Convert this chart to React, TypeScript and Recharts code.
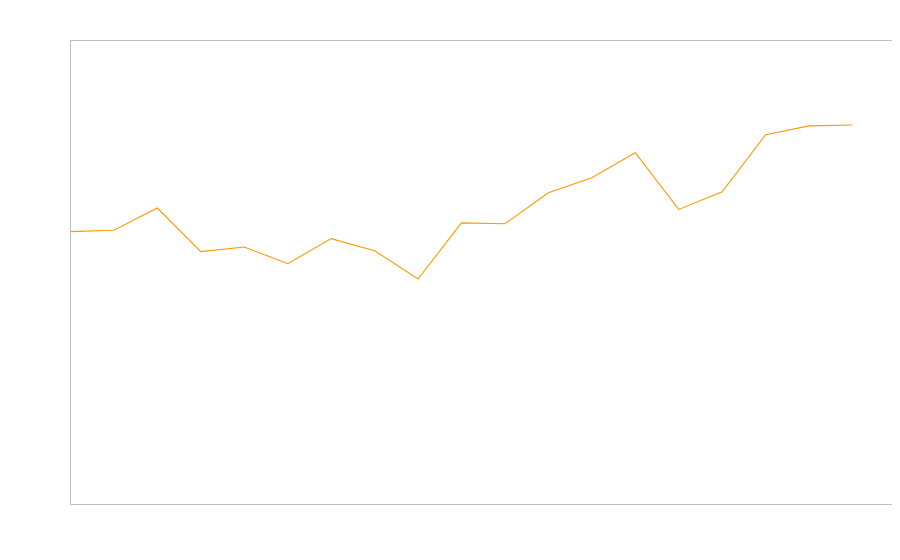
import React from 'react';
import { LineChart, Line, XAxis, YAxis, ReferenceLine } from 'recharts';

// index positions along the x axis
const steps = [0, 1, 2, 3, 4, 5, 6, 7, 8, 9, 10, 11, 12, 13, 14, 15, 16, 17, 18];
// values (y range 0–100)
const values = [
  58.8, 59.1, 63.9, 54.5, 55.5, 51.9, 57.3, 54.7, 48.6, 60.7,
  60.5, 67.2, 70.4, 75.8, 63.6, 67.4, 79.7, 81.6, 81.8,
];
const xDomain = [0, 18.92];
const yDomain = [0, 100];

const chartData = steps.map((step, i) => ({ step, value: values[i] }));

const frame = '#bdbdbd';

export default function App() {
  // sized so the page (with the 8px body margin) does not overflow 900x560
  return (
    <div style={{ width: 892, height: 544 }}>
      <LineChart
        width={892}
        height={544}
        data={chartData}
        // half-pixel offsets keep the 1px frame crisp
        margin={{ top: 31.5, right: 6.5, bottom: 46.5, left: 61.5 }}
      >
        {/* the four axes only draw their lines: they form the plot frame */}
        <XAxis
          xAxisId="b"
          dataKey="step"
          type="number"
          domain={xDomain}
          height={1}
          tick={false}
          tickLine={false}
          axisLine={{ stroke: frame }}
        />
        <XAxis
          xAxisId="t"
          orientation="top"
          dataKey="step"
          type="number"
          domain={xDomain}
          height={1}
          tick={false}
          tickLine={false}
          axisLine={{ stroke: frame }}
        />
        <YAxis
          yAxisId="l"
          domain={yDomain}
          width={1}
          tick={false}
          tickLine={false}
          axisLine={{ stroke: frame }}
        />
        <YAxis
          yAxisId="r"
          orientation="right"
          domain={yDomain}
          width={1}
          tick={false}
          tickLine={false}
          axisLine={{ stroke: frame }}
        />
        <ReferenceLine xAxisId="b" yAxisId="l" x={xDomain[1]} stroke={frame} ifOverflow="visible" />
        <Line
          xAxisId="b"
          yAxisId="l"
          type="linear"
          dataKey="value"
          stroke="#ff9900"
          strokeWidth={1.1}
          dot={false}
          isAnimationActive={false}
        />
      </LineChart>
    </div>
  );
}
